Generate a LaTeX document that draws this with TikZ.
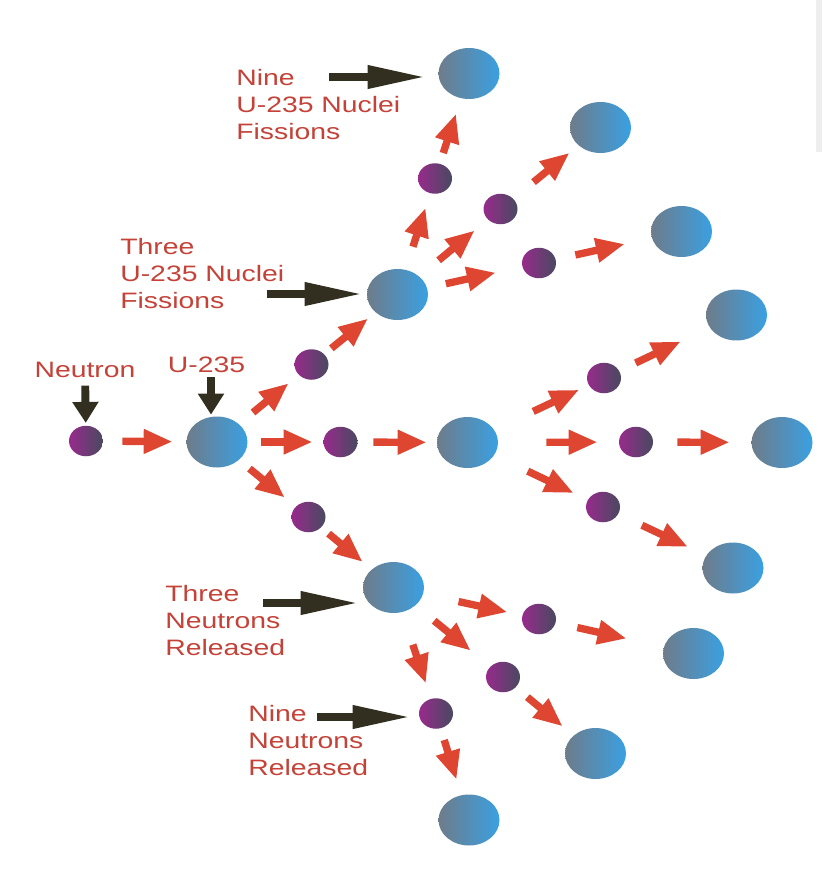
\documentclass[tikz,border=0pt]{standalone}
\usepackage{fontspec}
\newfontfamily\chainfont{Liberation Sans}[FakeStretch=1.27]
\usetikzlibrary{arrows.meta,shapes.geometric}
\definecolor{labelred}{RGB}{196,66,56}
\definecolor{arrowred}{RGB}{222,70,50}
\definecolor{pointerdark}{RGB}{50,47,32}
\definecolor{nucleusgrey}{RGB}{110,124,138}
\definecolor{nucleusblue}{RGB}{58,160,226}
\definecolor{neutronpurple}{RGB}{152,42,140}
\definecolor{neutronslate}{RGB}{72,74,96}

\begin{document}
\begin{tikzpicture}[x=0.02cm,y=-0.02cm,
    nucleus/.style = {ellipse, minimum width=1.22cm, minimum height=1.02cm, inner sep=0pt, left color=nucleusgrey, right color=nucleusblue},
    neutron/.style = {ellipse, minimum width=0.68cm, minimum height=0.61cm, inner sep=0pt, left color=neutronpurple, right color=neutronslate},
    split/.style = {line width=4.2pt, color=arrowred, -{Triangle[length=0.58cm,width=0.46cm]}},
    gap/.style 2 args = {shorten <=#1cm, shorten >=#2cm},
    pointer/.style = {line width=4pt, color=pointerdark, -{Triangle[length=1.14cm,width=0.44cm]}},
    drop/.style = {line width=4.5pt, color=pointerdark, -{Triangle[length=0.42cm,width=0.5cm]}},
    chaintext/.style = {font=\chainfont\fontsize{12.7pt}{15.3pt}\selectfont, text=labelred, inner sep=0pt}]
                \useasboundingbox (0,0) rectangle (827,875);
                \fill[gray!13] (816,0) rectangle (822,152);
                \node[neutron] (n0) at (86,441) {};
                \node[nucleus] (u0) at (217,442) {};
                \node[neutron] (n1a) at (311.5,364.5) {};
                \node[neutron] (n1b) at (340.5,442) {};
                \node[neutron] (n1c) at (308.5,517) {};
                \node[nucleus] (u1a) at (397.5,294.5) {};
                \node[nucleus] (u1b) at (467.5,442.5) {};
                \node[nucleus] (u1c) at (393.5,587.5) {};
                \node[neutron] (n2a) at (435,178.5) {};
                \node[neutron] (n2b) at (500.5,209) {};
                \node[neutron] (n2c) at (539,263) {};
                \node[neutron] (n3a) at (604,378) {};
                \node[neutron] (n3b) at (636,442) {};
                \node[neutron] (n3c) at (603,507) {};
                \node[neutron] (n4a) at (539,619) {};
                \node[neutron] (n4b) at (503,677) {};
                \node[neutron] (n4c) at (436,713.5) {};
                \node[nucleus] (u2a) at (469,73.5) {};
                \node[nucleus] (u2b) at (600.5,127.5) {};
                \node[nucleus] (u2c) at (681.5,231.5) {};
                \node[nucleus] (u3a) at (736.5,315) {};
                \node[nucleus] (u3b) at (782,442.5) {};
                \node[nucleus] (u3c) at (733,568) {};
                \node[nucleus] (u4a) at (693.5,653.5) {};
                \node[nucleus] (u4b) at (595.5,753.5) {};
                \node[nucleus] (u4c) at (469,820) {};
                \node[chaintext, anchor=base] (neutronlabel) at (85,377) {Neutron};
                \node[chaintext, anchor=base] (u235label) at (206.5,372) {U-235};
                \node[chaintext, anchor=base west, align=left] (ninefission) at (236,139) {Nine\\U-235 Nuclei\\Fissions};
                \node[chaintext, anchor=base west, align=left] (threefission) at (120,308) {Three\\U-235 Nuclei\\Fissions};
                \node[chaintext, anchor=base west, align=left] (threerelease) at (165,655) {Three\\Neutrons\\Released};
                \node[chaintext, anchor=base west, align=left] (ninerelease) at (248,775.5) {Nine\\Neutrons\\Released};
                \coordinate (tu) at (211,377);
                \coordinate (t1) at (329,77);
                \coordinate (t2) at (267,294);
                \coordinate (t3) at (263,603);
                \coordinate (t4) at (317,717);
                \draw[drop, shorten <=0.16cm, shorten >=0.05cm] (neutronlabel) -- (n0);
                \draw[drop, shorten >=0.03cm] (tu) -- (tu |- u0.north);
                \draw[pointer, shorten >=0.27cm] (t1) -- (t1 -| u2a.west);
                \draw[pointer, shorten >=0.1cm] (t2) -- (t2 -| u1a.west);
                \draw[pointer, shorten >=0.1cm] (t3) -- (t3 -| u1c.west);
                \draw[pointer, shorten >=0.18cm] (t4) -- (t4 -| n4c.west);
                \path[split]
                    (n0) edge[gap={0.38}{0.27}] (u0)
                    (u0) edge[gap={0.36}{0.26}] (n1a)
                    (u0) edge[gap={0.27}{0.21}] (n1b)
                    (u0) edge[gap={0.27}{0.28}] (n1c)
                    (n1a) edge[gap={0.18}{0.19}] (u1a)
                    (n1b) edge[gap={0.31}{0.20}] (u1b)
                    (n1c) edge[gap={0.19}{0.23}] (u1c);
                \path[split]
                    (u1a) edge[gap={0.48}{0.30}] (n2a)
                    (u1a) edge[gap={0.50}{0.34}] (n2b)
                    (u1a) edge[gap={0.38}{0.54}] (n2c)
                    (n2a) edge[gap={0.22}{0.32}] (u2a)
                    (n2b) edge[gap={0.52}{0.23}] (u2b)
                    (n2c) edge[gap={0.40}{0.55}] (u2c)
                    (u1b) edge[gap={0.86}{0.21}] (n3a)
                    (u1b) edge[gap={0.96}{0.42}] (n3b)
                    (u1b) edge[gap={0.74}{0.31}] (n3c)
                    (n3a) edge[gap={0.36}{0.64}] (u3a)
                    (n3b) edge[gap={0.48}{0.43}] (u3b)
                    (n3c) edge[gap={0.52}{0.40}] (u3c)
                    (u1c) edge[gap={0.72}{0.30}] (n4a)
                    (u1c) edge[gap={0.48}{0.50}] (n4b)
                    (u1c) edge[gap={0.68}{0.32}] (n4c)
                    (n4a) edge[gap={0.44}{0.76}] (u4a)
                    (n4b) edge[gap={0.30}{0.28}] (u4b)
                    (n4c) edge[gap={0.24}{0.32}] (u4c);
\end{tikzpicture}
\end{document}
